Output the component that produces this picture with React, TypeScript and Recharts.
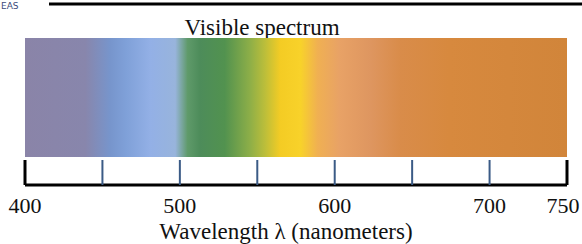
import { ComposedChart, Area, XAxis, YAxis } from 'recharts';

const WAVELENGTH_TICKS = [400, 450, 500, 550, 600, 650, 700, 750];
const LABELED_TICKS = [400, 500, 600, 700, 750];

// the painted band spans the whole axis, sitting a bit above the axis line
const SPECTRUM_BAND = [
  { wavelength: 400, top: 1 },
  { wavelength: 750, top: 1 },
];

const SPECTRUM_STOPS = [
  { wavelength: 400, color: '#8a84a8' },
  { wavelength: 439, color: '#8886ac' },
  { wavelength: 455, color: '#7795cc' },
  { wavelength: 465, color: '#7fa0d8' },
  { wavelength: 481, color: '#93b0e6' },
  { wavelength: 497, color: '#98b4dc' },
  { wavelength: 505, color: '#5f9a6a' },
  { wavelength: 513, color: '#4d8c5a' },
  { wavelength: 529, color: '#52924f' },
  { wavelength: 545, color: '#8cae48' },
  { wavelength: 555, color: '#bcbe3a' },
  { wavelength: 565, color: '#f4cc24' },
  { wavelength: 578, color: '#f8d22a' },
  { wavelength: 589, color: '#f0b052' },
  { wavelength: 603, color: '#e8a266' },
  { wavelength: 623, color: '#de9660' },
  { wavelength: 642, color: '#d98c4a' },
  { wavelength: 674, color: '#d7893e' },
  { wavelength: 750, color: '#d1853a' },
];

const SERIF = "'Liberation Serif', 'Times New Roman', serif";

function WavelengthTick({ x, y, payload }: any) {
  const v = payload.value;
  const edge = v === 400 || v === 750;
  const labeled = LABELED_TICKS.includes(v);
  return (
    <g>
      <line
        x1={x}
        x2={x}
        y1={y - 25}
        y2={y}
        stroke={edge ? '#000' : '#3b5b86'}
        strokeWidth={edge ? 3 : 2}
      />
      {labeled && (
        <text
          x={v === 750 ? x - 4 : x}
          y={y + 28}
          textAnchor='middle'
          fontSize={22}
          fontFamily={SERIF}
          fill='#111'
        >
          {v}
        </text>
      )}
    </g>
  );
}

export default function App() {
  return (
    <div style={{ position: 'absolute', left: 0, top: 0, background: '#fff' }}>
      <ComposedChart
        width={582}
        height={244}
        data={SPECTRUM_BAND}
        margin={{ top: 38, right: 15, left: 25, bottom: 0 }}
      >
        <defs>
          <linearGradient id='spectrum' x1='0' y1='0' x2='1' y2='0'>
            {SPECTRUM_STOPS.map((s) => (
              <stop
                key={s.wavelength}
                offset={(s.wavelength - 400) / 350}
                stopColor={s.color}
              />
            ))}
          </linearGradient>
        </defs>
        <text x={1} y={9} fontSize={9} fontFamily='DejaVu Sans, sans-serif' fill='#3b4a7a'>
          EAS
        </text>
        <line x1={49} x2={582} y1={4} y2={4} stroke='#000' strokeWidth={3} />
        <text x={262} y={35} textAnchor='middle' fontSize={23} fontFamily={SERIF} fill='#111'>
          Visible spectrum
        </text>
        <XAxis
          dataKey='wavelength'
          type='number'
          domain={[400, 750]}
          ticks={WAVELENGTH_TICKS}
          interval={0}
          height={59}
          tickSize={0}
          tickMargin={0}
          tick={<WavelengthTick />}
          axisLine={{ stroke: '#000', strokeWidth: 3 }}
          label={{
            value: 'Wavelength λ (nanometers)',
            position: 'insideBottom',
            offset: 5,
            dx: -10,
            fontSize: 23,
            fontFamily: SERIF,
            fill: '#111',
          }}
        />
        <YAxis hide domain={[0, 1]} />
        <Area
          dataKey='top'
          baseValue={0.19}
          stroke='none'
          fill='url(#spectrum)'
          fillOpacity={1}
          isAnimationActive={false}
        />
      </ComposedChart>
    </div>
  );
}
